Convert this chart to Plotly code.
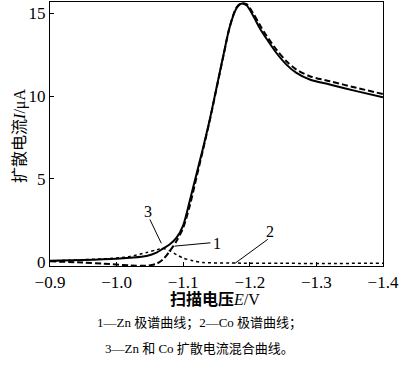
import plotly.graph_objects as go

# Curve 3: Zn + Co mixed diffusion current (solid)
x_mix = [-0.90, -0.95, -1.00, -1.02, -1.045, -1.06, -1.07, -1.08, -1.09, -1.10, -1.11, -1.12, -1.13,
         -1.14, -1.15, -1.16, -1.17, -1.18, -1.187, -1.195, -1.205, -1.215, -1.225, -1.24, -1.255,
         -1.27, -1.29, -1.32, -1.36, -1.40]
y_mix = [0.05, 0.10, 0.18, 0.24, 0.35, 0.55, 0.80, 1.05, 1.45, 2.2, 3.7, 5.3, 6.9,
         8.6, 10.5, 12.4, 14.2, 15.3, 15.58, 15.48, 14.85, 14.1, 13.47, 12.6, 11.9,
         11.4, 11.0, 10.7, 10.3, 9.92]

# Curve 1: Zn polarogram (dashed)
x_zn = [-0.90, -0.95, -0.98, -1.02, -1.045, -1.06, -1.07, -1.08, -1.09, -1.10, -1.11, -1.12, -1.13,
        -1.14, -1.15, -1.16, -1.17, -1.18, -1.187, -1.195, -1.205, -1.215, -1.225, -1.24, -1.255,
        -1.27, -1.29, -1.32, -1.36, -1.40]
y_zn = [0.02, -0.05, -0.12, -0.22, -0.24, -0.12, 0.15, 0.65, 1.25, 2.05, 3.4, 5.1, 6.8,
        8.55, 10.45, 12.35, 14.2, 15.35, 15.6, 15.55, 15.0, 14.3, 13.65, 12.8, 12.1,
        11.6, 11.2, 10.9, 10.5, 10.12]

# Curve 2: Co polarogram (dotted)
x_co = [-0.90, -0.95, -1.00, -1.02, -1.045, -1.06, -1.07, -1.08, -1.09, -1.10, -1.115, -1.13,
        -1.17, -1.25, -1.40]
y_co = [0.05, 0.12, 0.22, 0.32, 0.55, 0.72, 0.80, 0.65, 0.42, 0.22, 0.05, -0.05,
        -0.08, -0.10, -0.10]

x_ticks = [-0.9, -1.0, -1.1, -1.2, -1.3, -1.4]
x_ticktext = ["\u22120.9", "\u22121.0", "\u22121.1", "\u22121.2", "\u22121.3", "\u22121.4"]
y_ticks = [0, 5, 10, 15]
y_ticktext = ["0", "5", "10", "15"]

SERIF = "Liberation Serif, Times New Roman, Noto Sans CJK SC"
CJK = "Liberation Serif, Noto Sans CJK SC"

fig = go.Figure()
fig.add_trace(go.Scatter(x=x_co, y=y_co, mode="lines",
                         line=dict(color="black", width=1.5, dash="dot", shape="spline", smoothing=0.8),
                         showlegend=False))
fig.add_trace(go.Scatter(x=x_zn, y=y_zn, mode="lines",
                         line=dict(color="black", width=2, dash="6px,3px", shape="spline", smoothing=0.8),
                         showlegend=False))
fig.add_trace(go.Scatter(x=x_mix, y=y_mix, mode="lines",
                         line=dict(color="black", width=2, shape="spline", smoothing=0.8),
                         showlegend=False))

# leader lines for curve labels
leaders = [
    ((-1.0500, 2.55), (-1.0671, 1.11)),
    ((-1.0869, 0.94), (-1.1409, 1.14)),
    ((-1.2270, 1.35), (-1.1777, -0.10)),
]
for (x0, y0), (x1, y1) in leaders:
    fig.add_shape(type="line", x0=x0, y0=y0, x1=x1, y1=y1, xref="x", yref="y",
                  line=dict(color="black", width=1))

labels = [("3", -1.0475, 3.05), ("1", -1.1507, 1.12), ("2", -1.2304, 1.82)]
for t, lx, ly in labels:
    fig.add_annotation(x=lx, y=ly, xref="x", yref="y", text=t, showarrow=False,
                       font=dict(family=SERIF, size=16, color="black"))

# axis titles
fig.add_annotation(x=-0.125, y=0.494, xref="paper", yref="paper",
                   text="扩散电流<i>I</i>/μA", textangle=-90, showarrow=False,
                   font=dict(family=CJK, size=16, color="black"))
fig.add_annotation(x=0.496, y=-0.166, xref="paper", yref="paper",
                   text="<b>扫描电压</b><i>E</i>/V", showarrow=False,
                   font=dict(family=CJK, size=16, color="black"))

# caption
fig.add_annotation(x=0.448, y=-0.253, xref="paper", yref="paper",
                   text="1—Zn 极谱曲线；2—Co 极谱曲线；", showarrow=False,
                   font=dict(family=CJK, size=13, color="black"))
fig.add_annotation(x=0.448, y=-0.347, xref="paper", yref="paper",
                   text="3—Zn 和 Co 扩散电流混合曲线。", showarrow=False,
                   font=dict(family=CJK, size=13, color="black"))

fig.update_layout(
    width=400, height=368,
    margin=dict(l=50, r=11, t=1, b=102),
    paper_bgcolor="white", plot_bgcolor="white",
    xaxis=dict(range=[-0.9, -1.4], tickvals=x_ticks, ticktext=x_ticktext,
               ticks="inside", ticklen=4, tickwidth=1, tickcolor="black",
               showline=True, linecolor="black", linewidth=1.2, mirror=True,
               showgrid=False, zeroline=False, ticklabeloverflow="allow",
               tickfont=dict(family=SERIF, size=17, color="black")),
    yaxis=dict(range=[-0.26, 15.68], tickvals=y_ticks, ticktext=y_ticktext,
               ticks="inside", ticklen=4, tickwidth=1, tickcolor="black",
               showline=True, linecolor="black", linewidth=1.2, mirror=True,
               showgrid=False, zeroline=False, ticklabeloverflow="allow",
               tickfont=dict(family=SERIF, size=17, color="black")),
)

fig.write_html("out.html", config={"displayModeBar": False},
               post_script="document.body.style.margin='0';document.body.style.overflow='hidden';")
